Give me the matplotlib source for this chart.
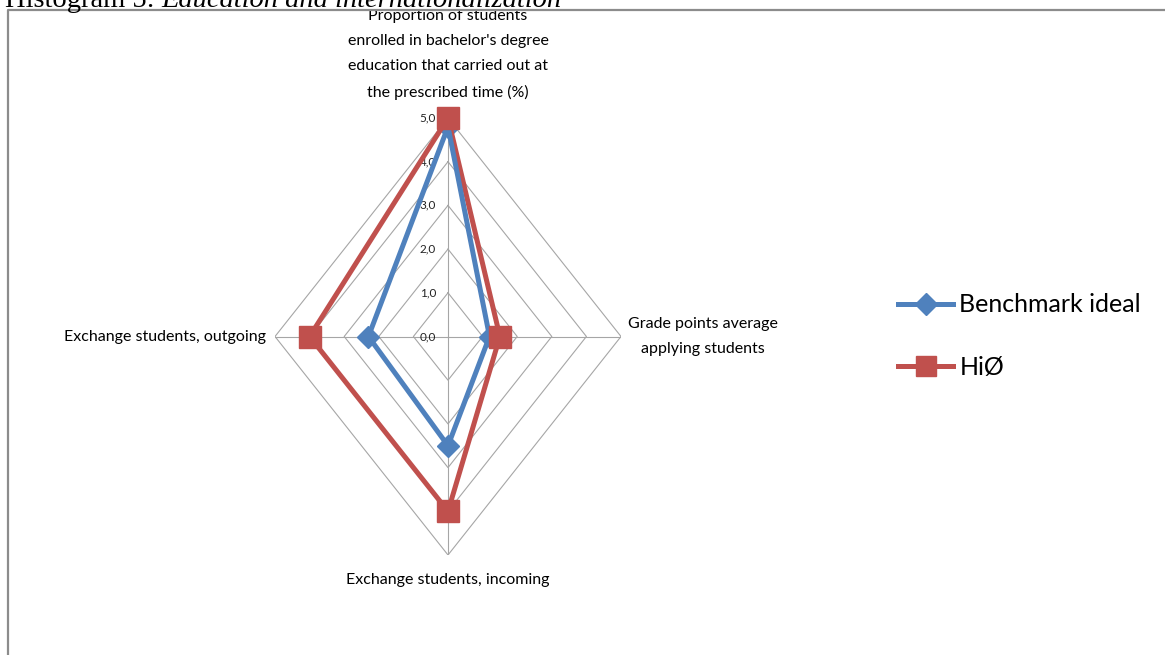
import numpy as np
import matplotlib.pyplot as plt
from matplotlib.lines import Line2D
from matplotlib.patches import Rectangle

# categorias del grafico radar (en sentido horario desde arriba)
categorias = ["Proportion of students\nenrolled in bachelor's degree\neducation that carried out at\nthe prescribed time (%)",
              "Grade points average\napplying students",
              "Exchange students, incoming",
              "Exchange students, outgoing"]
benchmark = [4.8, 1.2, 2.5, 2.3]
hio = [5.0, 1.5, 4.0, 4.0]
niveles = [0, 1, 2, 3, 4, 5]
etiquetas_niveles = ["0,0", "1,0", "2,0", "3,0", "4,0", "5,0"]
series = ["Benchmark ideal", "HiØ"]

AZUL = '#4F81BD'
ROJO = '#C0504D'
GRIS = '#A6A6A6'

plt.rcParams['font.family'] = ['Lato', 'DejaVu Sans']

W, H = 1165, 655
fig = plt.figure(figsize=(W / 100, H / 100), dpi=100)
fig.patch.set_facecolor('white')

# ejes cartesianos, el radar se dibuja a mano (rombos)
ax = fig.add_axes([275 / W, (H - 555) / H, 346 / W, 437 / H])
ax.set_xlim(-5, 5)
ax.set_ylim(-5, 5)
ax.axis('off')

n = len(categorias)
ang = np.arange(n) * 2 * np.pi / n  # 0 = arriba, horario
sx = np.sin(ang)
cy = np.cos(ang)

def cerrar(v):
    v = np.asarray(v, dtype=float)
    return np.append(v * sx, v[0] * sx[0]), np.append(v * cy, v[0] * cy[0])

# grilla
rmax = niveles[-1]
for r in niveles[1:]:
    x, y = cerrar([r] * n)
    ax.plot(x, y, color=GRIS, lw=0.8, zorder=1)
for i in range(n):
    ax.plot([0, rmax * sx[i]], [0, rmax * cy[i]], color=GRIS, lw=0.8, zorder=1)

# etiquetas del eje radial
for r, t in zip(niveles, etiquetas_niveles):
    ax.annotate(t, xy=(0, r), xytext=(-12, 0), textcoords='offset pixels',
                ha='right', va='center', fontsize=8.5, color='#222222')

# series
x, y = cerrar(benchmark)
ax.plot(x[:-1], y[:-1], ls='none', marker='D', ms=11, color=AZUL, zorder=3, clip_on=False)
ax.plot(x, y, color=AZUL, lw=3.6, zorder=4, clip_on=False)
x, y = cerrar(hio)
ax.plot(x, y, color=ROJO, lw=3.6, zorder=3, clip_on=False)
ax.plot(x[:-1], y[:-1], ls='none', marker='s', ms=16, color=ROJO, zorder=5, clip_on=False)

# etiquetas de categorias
ax.annotate(categorias[0], xy=(0, rmax), xytext=(0, 18), textcoords='offset pixels',
            ha='center', va='bottom', fontsize=11.5, linespacing=2.0, multialignment='center')
ax.annotate(categorias[1], xy=(rmax, 0), xytext=(7, 0), textcoords='offset pixels',
            ha='left', va='center', fontsize=11.5, linespacing=2.0, multialignment='center')
ax.annotate(categorias[2], xy=(0, -rmax), xytext=(0, -18), textcoords='offset pixels',
            ha='center', va='top', fontsize=11.5)
ax.annotate(categorias[3], xy=(-rmax, 0), xytext=(-9, 0), textcoords='offset pixels',
            ha='right', va='center', fontsize=11.5)

# leyenda
handles = [Line2D([], [], color=AZUL, lw=3.6, marker='D', ms=11),
           Line2D([], [], color=ROJO, lw=3.6, marker='s', ms=15)]
fig.legend(handles, series, loc='center left', bbox_to_anchor=(898 / W, 1 - 336 / H),
           frameon=False, fontsize=18, handlelength=2.2, handletextpad=0.25,
           labelspacing=1.57, borderpad=0, borderaxespad=0)

# marco del cuadro y titulo cortado arriba
fig.patches.append(Rectangle((0, 1 - 10 / H), 1, 10 / H, transform=fig.transFigure,
                             facecolor='white', edgecolor='none', zorder=5))
fig.lines.append(Line2D([8 / W, 8 / W, 1], [0, 1 - 10 / H, 1 - 10 / H], transform=fig.transFigure,
                        color='#8C8C8C', lw=1.6, zorder=6))
t1 = fig.text(5 / W, 1 - 7 / H, "Histogram 5: ", family='Liberation Serif', fontsize=20.5,
              va='baseline', ha='left', zorder=7)
fig.canvas.draw()
bb = t1.get_window_extent()
fig.text(bb.x1 / W, 1 - 7 / H, "Education and internationalization", family='Liberation Serif',
         style='italic', fontsize=20.5, va='baseline', ha='left', zorder=7)

fig.savefig('out.png', dpi=100)
